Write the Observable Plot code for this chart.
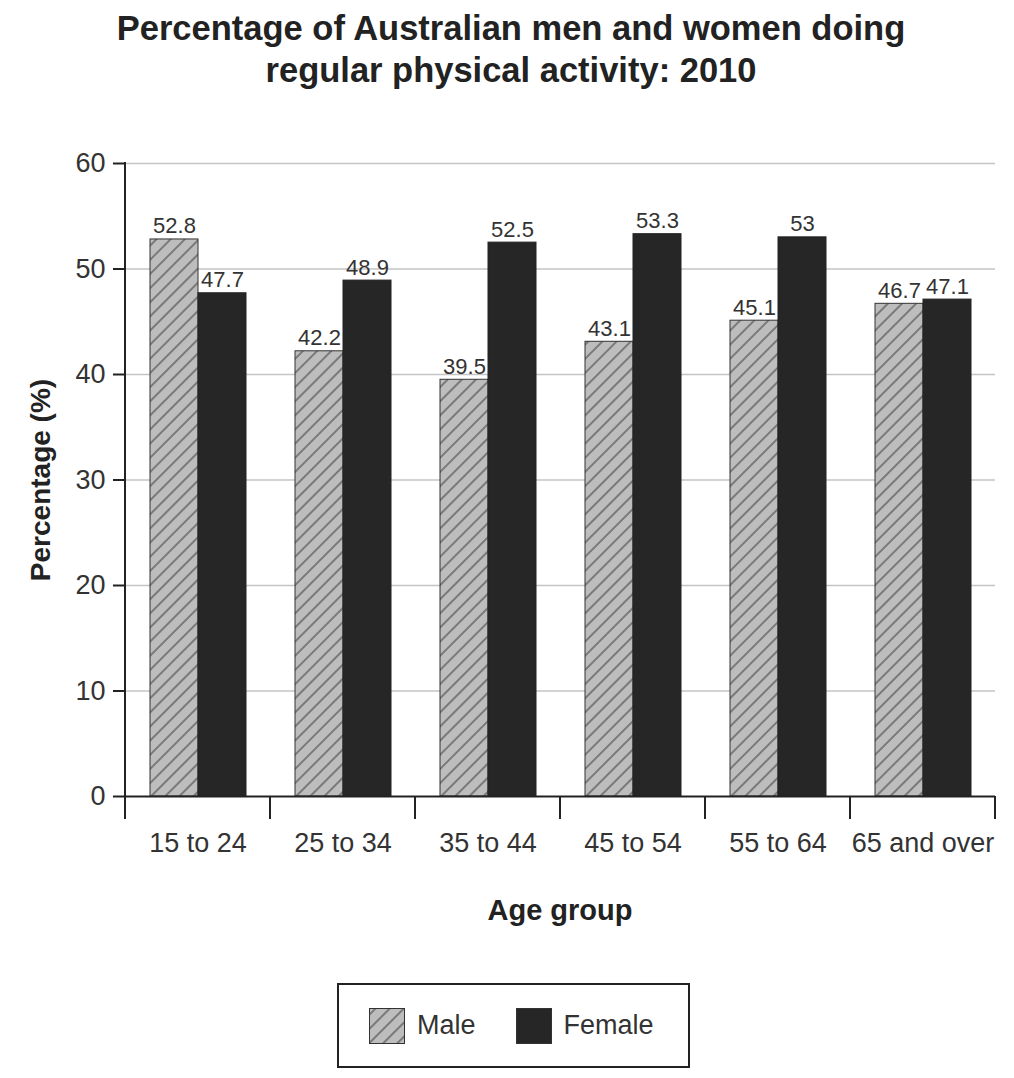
<!DOCTYPE html>
<html>
<head>
<meta charset="utf-8">
<script src="https://cdn.jsdelivr.net/npm/d3@7"></script>
<script src="https://cdn.jsdelivr.net/npm/@observablehq/plot@0.6"></script>
<style>
  body { margin: 0; background: #fff; font-family: "Liberation Sans", Arial, sans-serif; color: #333; }
  #wrap { position: relative; width: 1014px; height: 1078px; overflow: hidden; }
  #title { position: absolute; left: 4px; top: 7px; width: 1014px; text-align: center; font-weight: bold; font-size: 34.5px; line-height: 42px; color: #222; }
  #chart { position: absolute; left: 0; top: 120px; }
  #xlabel { position: absolute; left: 125px; width: 870px; top: 890px; text-align: center; font-weight: bold; font-size: 29px; line-height: 40px; color: #222; }
  #legend { position: absolute; left: 337px; top: 983px; width: 353px; height: 85px; border: 2px solid #222; display: flex; align-items: center; padding-left: 30px; box-sizing: border-box; }
  #legend .item { display: flex; align-items: center; font-size: 27px; color: #333; margin-right: 40px; }
  #legend .item svg { margin-right: 12px; display: block; }
  [aria-label="y-axis label"] text { font-weight: bold; font-size: 28px; fill: #222; }
</style>
</head>
<body>
<div id="wrap">
  <div id="title"></div>
  <div id="chart"></div>
  <div id="xlabel"></div>
  <div id="legend"></div>
</div>
<script>
const titleLines = ["Percentage of Australian men and women doing", "regular physical activity: 2010"];
const yAxisTitle = "Percentage (%)";
const xAxisTitle = "Age group";
const ageGroups = ["15 to 24", "25 to 34", "35 to 44", "45 to 54", "55 to 64", "65 and over"];
const sexes = ["Male", "Female"];
const maleValues = [52.8, 42.2, 39.5, 43.1, 45.1, 46.7];
const femaleValues = [47.7, 48.9, 52.5, 53.3, 53, 47.1];
const yTicks = [0, 10, 20, 30, 40, 50, 60];

const hatchDef = (id) => `<pattern id="${id}" patternUnits="userSpaceOnUse" width="10" height="10" patternTransform="rotate(45)"><rect width="10" height="10" fill="#bdbdbd"/><line x1="5" y1="0" x2="5" y2="10" stroke="#555" stroke-width="1.3"/></pattern>`;

document.getElementById("title").innerHTML = titleLines.join("<br>");
document.getElementById("xlabel").textContent = xAxisTitle;

const data = ageGroups.flatMap((g, i) => [
  {group: g, sex: sexes[0], value: maleValues[i]},
  {group: g, sex: sexes[1], value: femaleValues[i]}
]);

const chart = Plot.plot({
  width: 1014,
  height: 740,
  marginTop: 43,
  marginBottom: 64,
  marginLeft: 125,
  marginRight: 19,
  style: {fontFamily: '"Liberation Sans", Arial, sans-serif', color: "#333", background: "transparent", overflow: "visible"},
  fx: {domain: ageGroups, padding: 0, label: null},
  x: {domain: sexes, paddingInner: 0, paddingOuter: 0.5, axis: null},
  y: {domain: [0, 60], label: null},
  marks: [
    Plot.gridY(yTicks.filter(t => t > 0), {stroke: "#c4c4c4", strokeOpacity: 1, strokeWidth: 1.3}),
    Plot.barY(data.filter(d => d.sex === sexes[0]), {fx: "group", x: "sex", y: "value", fill: "url(#hatch)", stroke: "#333", strokeWidth: 1}),
    Plot.barY(data.filter(d => d.sex === sexes[1]), {fx: "group", x: "sex", y: "value", fill: "#262626", stroke: "#222", strokeWidth: 1}),
    Plot.ruleY([0], {stroke: "#222", strokeWidth: 2}),
    Plot.text(data, {fx: "group", x: "sex", y: "value", text: d => String(d.value), lineAnchor: "bottom", dy: -6, fontSize: 22, fill: "#333"}),
    Plot.axisY(yTicks, {tickSize: 12, tickPadding: 8, fontSize: 27, stroke: "#222", strokeWidth: 2, fill: "#333", label: yAxisTitle, labelAnchor: "center", labelOffset: 95, labelArrow: "none"}),
    Plot.axisFx({anchor: "bottom", tickSize: 0, tickPadding: 36, fontSize: 27, fill: "#333", label: null})
  ]
});

const svg = d3.select(chart);
svg.insert("defs", ":first-child").html(hatchDef("hatch"));

// boundary tick marks and y-axis line derived from the plot's own scales
const fxS = chart.scale("fx"), yS = chart.scale("y");
const bw = fxS.bandwidth != null ? fxS.bandwidth : (fxS.range[1] - fxS.range[0]) / ageGroups.length;
const xs = ageGroups.map(g => fxS.apply(g));
xs.push(xs[xs.length - 1] + bw);
const y0 = yS.apply(0), yTop = yS.apply(yTicks[yTicks.length - 1]);
const ag = svg.append("g").attr("stroke", "#222").attr("stroke-width", 2);
xs.forEach(x => ag.append("line").attr("x1", x).attr("x2", x).attr("y1", y0).attr("y2", y0 + 23));
ag.append("line").attr("x1", xs[0]).attr("x2", xs[0]).attr("y1", yTop - 1).attr("y2", y0);

document.getElementById("chart").appendChild(chart);

// legend
const legend = d3.select("#legend");
sexes.forEach((s, i) => {
  const item = legend.append("div").attr("class", "item");
  const sw = item.append("svg").attr("width", 36).attr("height", 36);
  if (i === 0) sw.append("defs").html(hatchDef("hatchL"));
  sw.append("rect").attr("x", 0.5).attr("y", 0.5).attr("width", 35).attr("height", 35)
    .attr("fill", i === 0 ? "url(#hatchL)" : "#262626").attr("stroke", "#333");
  item.append("span").text(s);
});
</script>
</body>
</html>
